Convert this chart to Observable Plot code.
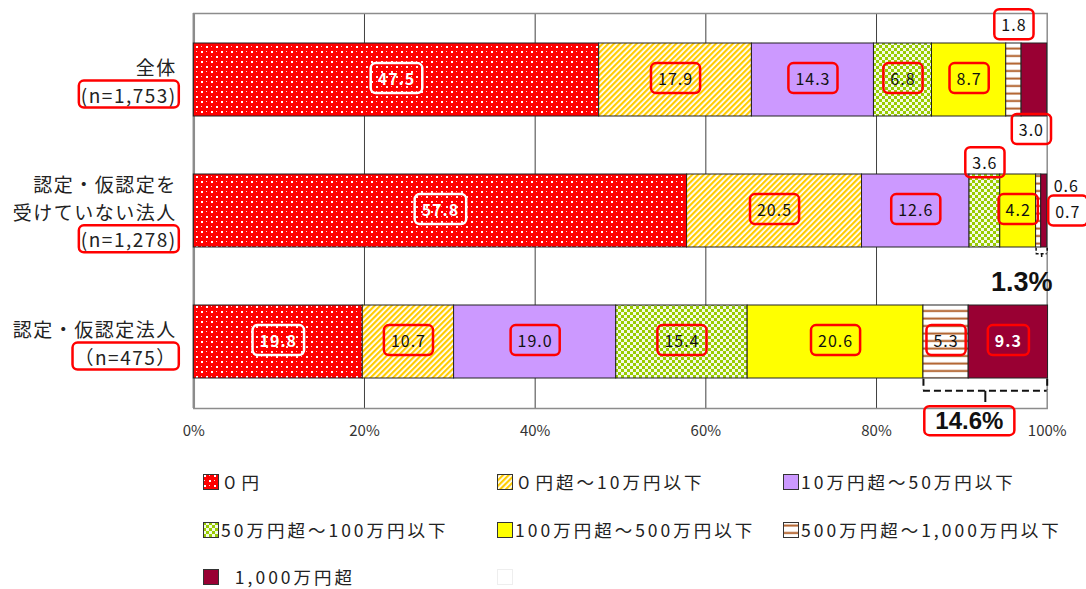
<!DOCTYPE html>
<html><head><meta charset="utf-8">
<script src="https://cdn.jsdelivr.net/npm/d3@7"></script>
<script src="https://cdn.jsdelivr.net/npm/@observablehq/plot@0.6"></script>
<style>
body{margin:0;background:#fff;font-family:"Noto Sans CJK JP",sans-serif;}
#wrap{position:relative;width:1086px;height:589px;overflow:hidden;background:#fff;}
#legend{position:absolute;left:0;top:450px;width:1086px;height:139px;}
.item{position:absolute;display:flex;align-items:center;font-size:17.5px;line-height:20px;height:20px;letter-spacing:3px;color:#222;white-space:nowrap;}
.item svg{margin-right:2px;flex:none;}
text[aria-label="ylab"]{letter-spacing:1.5px;}
text[aria-label^="lab"]{letter-spacing:1px;}
</style></head><body>
<svg width="0" height="0" style="position:absolute">
  <defs>
    <pattern id="pat0" patternUnits="userSpaceOnUse" width="10" height="10">
      <rect width="10" height="10" fill="#FF0000"/>
      <rect x="1" y="1" width="2" height="2" fill="#FFFFFF"/>
      <rect x="6" y="6" width="2" height="2" fill="#FFFFFF"/>
      <rect x="6" y="1" width="1" height="1" fill="#FFD0D0"/>
      <rect x="1" y="6" width="1" height="1" fill="#FFD0D0"/>
    </pattern>
    <pattern id="pat1" patternUnits="userSpaceOnUse" width="4" height="4" patternTransform="rotate(45)">
      <rect width="4" height="4" fill="#FFFFFF"/>
      <rect width="2.2" height="4" fill="#FFCC00"/>
    </pattern>
    <pattern id="pat2" patternUnits="userSpaceOnUse" width="4" height="4">
      <rect width="4" height="4" fill="#CC99FF"/>
    </pattern>
    <pattern id="pat3" patternUnits="userSpaceOnUse" width="6" height="6">
      <rect width="6" height="6" fill="#F4FAE6"/>
      <rect width="3" height="3" fill="#99CC00"/>
      <rect x="3" y="3" width="3" height="3" fill="#99CC00"/>
    </pattern>
    <pattern id="pat4" patternUnits="userSpaceOnUse" width="4" height="4">
      <rect width="4" height="4" fill="#FFFF00"/>
    </pattern>
    <pattern id="pat5" patternUnits="userSpaceOnUse" width="7" height="7.5">
      <rect width="7" height="7.5" fill="#FFFFFF"/>
      <rect y="2.5" width="7" height="2" fill="#B0602A"/>
    </pattern>
    <pattern id="pat6" patternUnits="userSpaceOnUse" width="4" height="4">
      <rect width="4" height="4" fill="#990033"/>
    </pattern>
  </defs>
</svg>
<div id="wrap"><div id="chart"></div><div id="legend"></div></div>
<script>
// ---------- data ----------
const groups = ["全体", "認定・仮認定を受けていない法人", "認定・仮認定法人"];
const groupLines = [["全体"], ["認定・仮認定を", "受けていない法人"], ["認定・仮認定法人"]];
const groupN = ["(n=1,753)", "(n=1,278)", "（n=475）"];
const categories = ["０円", "０円超～10万円以下", "10万円超～50万円以下", "50万円超～100万円以下",
  "100万円超～500万円以下", "500万円超～1,000万円以下", "1,000万円超"];
const legendLabels = ["０円", "０円超～10万円以下", "10万円超～50万円以下", "50万円超～100万円以下",
  "100万円超～500万円以下", "500万円超～1,000万円以下", " 1,000万円超"];
const valuesAll = [47.5, 17.9, 14.3, 6.8, 8.7, 1.8, 3.0];
const valuesUncertified = [57.8, 20.5, 12.6, 3.6, 4.2, 0.6, 0.7];
const valuesCertified = [19.8, 10.7, 19.0, 15.4, 20.6, 5.3, 9.3];
const placeAll = ["in", "in", "in", "in", "in", "aboveHi", "below"];
const placeUncertified = ["in", "in", "in", "aboveLo", "in", "rightTop", "right"];
const placeCertified = ["in", "in", "in", "in", "in", "in", "in"];
const xTicks = [0, 20, 40, 60, 80, 100];
const gridTicks = [20, 40, 60, 80];
const bracketGroups = [1, 2];      // groups with a bracket over the top two categories
const bracketFrom = 5;             // first category index inside the bracket

// ---------- build tables ----------
const seriesValues = [valuesAll, valuesUncertified, valuesCertified];
const seriesPlace = [placeAll, placeUncertified, placeCertified];
const rows = [];
groups.forEach((g, gi) => categories.forEach((c, ci) => rows.push({
  group: g, gi, cat: c, ci, value: seriesValues[gi][ci], place: seriesPlace[gi][ci]
})));
const fillOf = ci => `url(#pat${ci})`;
const yLabels = groups.map((g, gi) => ({group: g, text: groupLines[gi].join("\n") + "\n" + groupN[gi]}));
const brackets = bracketGroups.map(gi => {
  const v = seriesValues[gi];
  const x1 = d3.sum(v.slice(0, bracketFrom)), x2 = Math.min(100, d3.sum(v));
  return {group: groups[gi], gi, x1, x2, mid: (x1 + x2) / 2, label: d3.sum(v.slice(bracketFrom)).toFixed(1) + "%"};
});

// ---------- layout ----------
const W = 1086, H = 450, MT = 13, MB = 42, ML = 193.3, MR = 39.3;
const PI = 0.44, PO = 0.22;
const step = (H - MT - MB) / (groups.length - PI + 2 * PO);
const bw = step * (1 - PI);
const numFont = "'Noto Sans CJK JP', sans-serif";
const fmt = v => v.toFixed(1);

const lab = (name, cond, opts) => Plot.text(rows, Plot.stackX({
  x: "value", y: "group", z: "cat",
  text: d => cond(d) ? fmt(d.value) : null,
  fontSize: 16, fontFamily: numFont, fill: "#111", ariaLabel: () => name, ...opts
}));

const bracketMarks = (data, drop, tick, dash, sw) => [
  Plot.ruleY(data, {y: "group", x1: "x1", x2: "x2", dy: bw / 2 + drop, stroke: "#111", strokeWidth: sw, strokeDasharray: dash}),
  Plot.ruleX(data, {x: "x1", y1: "group", y2: "group", insetTop: bw, insetBottom: -drop, stroke: "#111", strokeWidth: sw, strokeDasharray: dash}),
  Plot.ruleX(data, {x: "x2", y1: "group", y2: "group", insetTop: bw, insetBottom: -drop, stroke: "#111", strokeWidth: sw, strokeDasharray: dash}),
  Plot.ruleX(data, {x: "mid", y1: "group", y2: "group", insetTop: bw + drop, insetBottom: -(drop + tick), stroke: "#111", strokeWidth: sw})
];

const chart = Plot.plot({
  width: W, height: H, marginTop: MT, marginBottom: MB, marginLeft: ML, marginRight: MR,
  x: {domain: [0, 100]},
  y: {domain: groups, paddingInner: PI, paddingOuter: PO, axis: null},
  color: {type: "identity"},
  style: {fontFamily: "'Noto Sans CJK JP', sans-serif", background: "white", overflow: "visible"},
  marks: [
    Plot.ruleX(gridTicks, {stroke: "#404040", strokeWidth: 1}),
    Plot.frame({stroke: "#8c8c8c", strokeWidth: 1.5}),
    Plot.ruleX([0], {stroke: "#8c8c8c", strokeWidth: 2.5}),
    Plot.barX(rows, Plot.stackX({x: "value", y: "group", z: "cat", fill: d => fillOf(d.ci), stroke: "#222", strokeWidth: 1})),
    Plot.axisX({ticks: xTicks, tickFormat: d => d + "%", tickSize: 0, tickPadding: 17, fontSize: 15, color: "#333", label: null}),
    lab("labRed", d => d.place === "in" && d.ci > 0 && d.ci < 6, {}),
    lab("labWhite", d => d.place === "in" && d.ci === 0, {fill: "white", fontWeight: "bold"}),
    lab("labRedW", d => d.place === "in" && d.ci === 6, {fill: "white", fontWeight: "bold"}),
    lab("labRedA1", d => d.place === "aboveHi", {dy: -bw / 2 - 17}),
    lab("labRedA2", d => d.place === "aboveLo", {dy: -bw / 2 - 10}),
    lab("labRedB", d => d.place === "below", {dy: bw / 2 + 14, dx: -3}),
    lab("labNone", d => d.place === "rightTop", {textAnchor: "start", dx: 15, dy: -24.5}),
    lab("labRedR", d => d.place === "right", {textAnchor: "start", dx: 11, dy: 1.5}),
    Plot.text(yLabels, {x: 0, y: "group", text: "text", textAnchor: "end", dx: -17, lineAnchor: "middle",
      lineHeight: 1.45, fontSize: 19, fill: "#222", ariaLabel: () => "ylab"}),
    ...bracketMarks(brackets.filter(b => b.gi === 1), 6, 4, "3,2", 1.5),
    ...bracketMarks(brackets.filter(b => b.gi === 2), 12, 12, "7,4", 2),
    Plot.text(brackets.filter(b => b.gi === 1), {x: "mid", y: "group", text: "label", dx: -20, dy: 71.5,
      fontSize: 27, fontWeight: "bold", fontFamily: "'Liberation Sans', Arial, sans-serif", fill: "#111"}),
    Plot.text(brackets.filter(b => b.gi === 2), {x: "mid", y: "group", text: "label", dx: -16, dy: 79.5,
      fontSize: 24, fontWeight: "bold", fontFamily: "'Liberation Sans', Arial, sans-serif", fill: "#111", ariaLabel: () => "bigbox"})
  ]
});
document.getElementById("chart").append(chart);

// ---------- rounded label boxes ----------
const NS = "http://www.w3.org/2000/svg";
const layer = document.createElementNS(NS, "g");
chart.append(layer);
function box(el, stroke, padX, padY, sw = 2.5, rx = 5) {
  const s = chart.getBoundingClientRect(), r = el.getBoundingClientRect();
  if (!r.width) return;
  const rect = document.createElementNS(NS, "rect");
  rect.setAttribute("x", r.left - s.left - padX);
  rect.setAttribute("y", r.top - s.top - padY);
  rect.setAttribute("width", r.width + 2 * padX);
  rect.setAttribute("height", r.height + 2 * padY);
  rect.setAttribute("rx", rx);
  rect.setAttribute("fill", "none");
  rect.setAttribute("stroke", stroke);
  rect.setAttribute("stroke-width", sw);
  layer.append(rect);
}
const sel = n => {
  const out = [];
  chart.querySelectorAll(`[aria-label="${n}"]`).forEach(el => {
    if (el.tagName.toLowerCase() === "text") out.push(el);
    else el.querySelectorAll("text").forEach(t => out.push(t));
  });
  return out;
};
["labRed", "labRedW", "labRedA1", "labRedA2", "labRedB", "labRedR"].forEach(n => sel(n).forEach(t => box(t, "#FF0000", 7, 3)));
sel("labWhite").forEach(t => box(t, "#FFFFFF", 7, 3));
sel("bigbox").forEach(t => box(t, "#FF0000", 11, 1, 2.5, 5));
sel("ylab").forEach(t => {
  const sp = t.querySelectorAll("tspan");
  box(sp.length ? sp[sp.length - 1] : t, "#FF0000", 2, 0, 2.5, 5);
});

// ---------- legend ----------
const legend = document.getElementById("legend");
const colX = [203, 497, 783], rowY = [22, 70, 117];
legendLabels.forEach((l, i) => {
  const it = document.createElement("div");
  it.className = "item";
  it.style.left = colX[i % 3] + "px";
  it.style.top = rowY[Math.floor(i / 3)] + "px";
  it.innerHTML = `<svg width="16" height="16"><rect x="0.5" y="0.5" width="15" height="15" fill="${fillOf(i)}" stroke="#333"/></svg><span>${l.replace(/^ /, "&nbsp;&nbsp;")}</span>`;
  legend.append(it);
});
const empty = document.createElement("div");
empty.className = "item";
empty.style.left = colX[1] + "px";
empty.style.top = rowY[2] + "px";
empty.innerHTML = `<svg width="16" height="16"><rect x="0.5" y="0.5" width="15" height="15" fill="none" stroke="#ddd" stroke-dasharray="1,1"/></svg>`;
legend.append(empty);
</script>
</body></html>
